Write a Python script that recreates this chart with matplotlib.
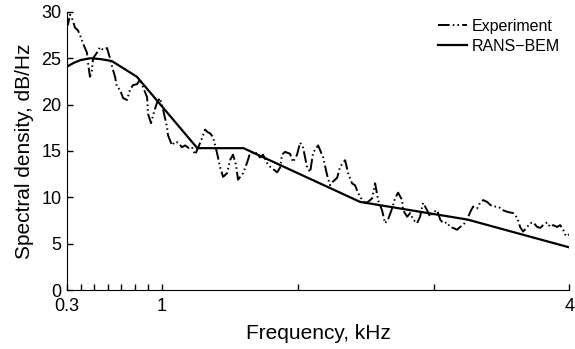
import matplotlib
matplotlib.use("Agg")
import matplotlib.pyplot as plt

plt.rcParams['font.family'] = ['Liberation Sans', 'DejaVu Sans']

# experiment spectrum
f_exp = [0.300, 0.307, 0.322, 0.337, 0.359, 0.381, 0.396, 0.418, 0.447, 0.455,
         0.469, 0.484, 0.492, 0.521, 0.543, 0.565, 0.595, 0.617, 0.632, 0.654,
         0.668, 0.691, 0.713, 0.742, 0.764, 0.786, 0.816, 0.838, 0.860, 0.890,
         0.897, 0.919, 0.941, 0.963, 0.985, 1.007, 1.037, 1.044, 1.074, 1.096,
         1.118, 1.147, 1.170, 1.199, 1.221, 1.243, 1.265, 1.295, 1.317, 1.339,
         1.354, 1.376, 1.405, 1.427, 1.450, 1.479, 1.501, 1.523, 1.545, 1.560,
         1.597, 1.626, 1.649, 1.685, 1.722, 1.744, 1.774, 1.796, 1.848, 1.870,
         1.884, 1.906, 1.943, 1.965, 1.995, 2.017, 2.039, 2.069, 2.091, 2.113,
         2.150, 2.164, 2.187, 2.216, 2.238, 2.260, 2.290, 2.312, 2.349, 2.371,
         2.400, 2.422, 2.444, 2.474, 2.496, 2.518, 2.548, 2.570, 2.592, 2.621,
         2.643, 2.665, 2.695, 2.717, 2.739, 2.769, 2.776, 2.806, 2.828, 2.850,
         2.879, 2.901, 2.923, 2.953, 2.975, 2.997, 3.027, 3.049, 3.071, 3.100,
         3.122, 3.144, 3.174, 3.196, 3.218, 3.248, 3.270, 3.292, 3.321, 3.343,
         3.366, 3.395, 3.417, 3.439, 3.476, 3.513, 3.550, 3.587, 3.616, 3.638,
         3.660, 3.690, 3.712, 3.734, 3.764, 3.786, 3.808, 3.837, 3.859, 3.881,
         3.911, 3.933, 3.955, 3.976, 4.000]
s_exp = [29.1, 28.6, 29.7, 29.3, 28.3, 28.0, 27.5, 26.6, 25.6, 24.5,
         23.0, 23.7, 25.0, 25.6, 26.2, 25.9, 26.1, 25.0, 24.1, 23.0,
         21.9, 21.6, 20.7, 20.5, 21.6, 22.1, 22.2, 22.7, 21.9, 20.8,
         19.0, 18.0, 19.2, 20.2, 20.7, 19.5, 17.6, 16.7, 15.6, 16.0,
         15.9, 15.4, 15.6, 15.3, 15.4, 14.6, 15.3, 16.4, 17.3, 17.0,
         16.9, 16.5, 14.8, 13.3, 12.2, 12.6, 14.0, 14.6, 13.5, 11.9,
         12.6, 13.7, 14.8, 14.9, 14.3, 14.6, 13.7, 13.3, 12.7, 13.2,
         14.6, 14.9, 14.7, 13.8, 14.6, 15.9, 15.4, 13.2, 12.7, 14.8,
         15.6, 15.1, 14.3, 12.4, 11.3, 11.7, 12.1, 13.3, 14.0, 12.6,
         11.5, 11.3, 10.5, 9.7, 9.4, 9.5, 9.9, 11.5, 9.7, 8.6,
         7.2, 7.6, 8.8, 9.9, 10.5, 9.7, 8.6, 7.9, 8.3, 7.6,
         7.2, 7.9, 9.4, 8.6, 7.9, 8.4, 8.6, 7.6, 7.2, 7.3,
         6.8, 6.7, 6.5, 6.8, 7.0, 7.6, 8.4, 9.0, 8.8, 9.4,
         9.7, 9.5, 9.2, 9.0, 9.0, 8.6, 8.4, 8.3, 7.8, 6.8,
         6.3, 6.8, 7.2, 7.3, 6.8, 6.7, 7.0, 7.3, 6.8, 7.0,
         6.8, 7.0, 6.5, 5.8, 6.0]

# RANS-BEM prediction
f_rans = [0.30, 0.35, 0.40, 0.47, 0.55, 0.63, 0.815, 1.26, 1.60, 2.46, 3.25, 4.00]
s_rans = [24.1, 24.5, 24.8, 25.0, 24.9, 24.7, 23.0, 15.3, 15.3, 9.5, 7.6, 4.6]

x_ticks = [0.3, 0.4, 0.5, 0.6, 0.7, 0.8, 0.9, 1, 2, 3, 4]
x_labels = ['0.3', '', '', '', '', '', '', '1', '', '', '4']
y_ticks = [0, 5, 10, 15, 20, 25, 30]

fig = plt.figure(figsize=(5.75, 3.49), dpi=100)
ax = fig.add_axes([0.1165, 0.169, 0.8735, 0.797])

ax.plot(f_exp, s_exp, color='black', lw=1.4,
        linestyle=(0, (6, 1.6, 0.8, 1.6, 0.8, 1.6)), label='Experiment')
ax.plot(f_rans, s_rans, color='black', lw=1.6, label='RANS\u2212BEM')

ax.set_xlim(0.3, 4)
ax.set_ylim(0, 30)
ax.set_xticks(x_ticks)
ax.set_xticklabels(x_labels)
ax.set_yticks(y_ticks)
ax.tick_params(direction='in', length=4, width=1, labelsize=13)
ax.tick_params(axis='x', pad=6)
ax.tick_params(axis='y', pad=4)
ax.spines['top'].set_visible(False)
ax.spines['right'].set_visible(False)

ax.set_xlabel('Frequency, kHz', fontsize=15, labelpad=6)
ax.set_ylabel('Spectral density, dB/Hz', fontsize=15, labelpad=5)

ax.legend(loc='upper left', bbox_to_anchor=(0.739, 0.975), frameon=False,
          fontsize=11.5, handlelength=1.8, handletextpad=0.3,
          labelspacing=0.3, borderpad=0, borderaxespad=0)

fig.savefig('out.png', dpi=100)
